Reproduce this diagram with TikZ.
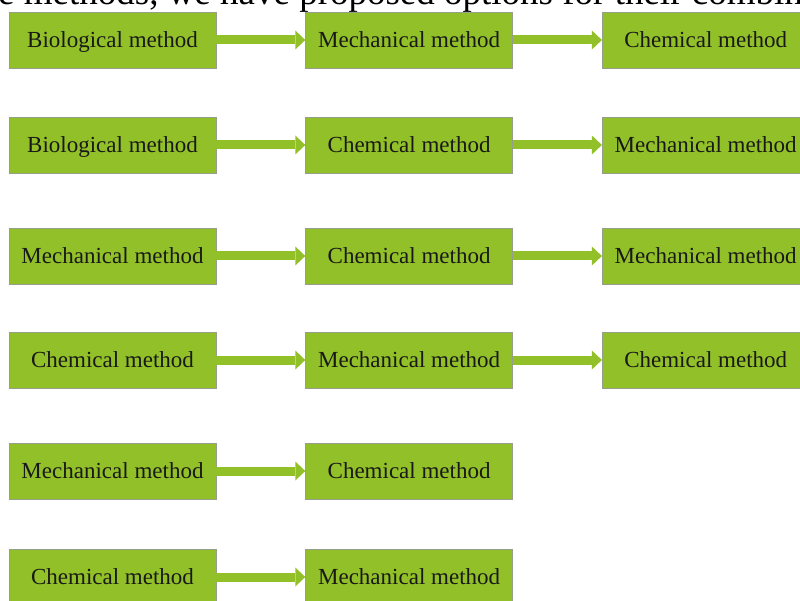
\documentclass[tikz,border=0pt]{standalone}
\usepackage{fontspec}
\setmainfont{Liberation Serif}
\usepackage{tikz}
\usetikzlibrary{positioning}
\usetikzlibrary{arrows.meta}
\definecolor{boxgreen}{RGB}{146,192,40}
\definecolor{boxedge}{RGB}{150,158,140}
\tikzset{method/.style={rectangle,fill=boxgreen,draw=boxedge,line width=0.6pt,minimum width=207pt,minimum height=56pt,inner sep=0pt,text depth=0pt,font=\fontsize{23}{26}\selectfont,text=black!90}}
\tikzset{link/.style={draw=boxgreen,line width=9pt,-{Triangle[length=10pt,width=19pt,line width=0pt]}}}

\begin{document}
\begin{tikzpicture}[x=1pt,y=1pt,node distance=89pt]
\useasboundingbox (0,0) rectangle (800,-601);
\clip (0,0) rectangle (800,-601);
% cut-off line of the text above
\node[anchor=base west,inner sep=0pt,font=\fontsize{37}{40}\selectfont] (cap) at (-2,-5) {e methods, we have proposed options for their combin};

% row 1
\node[method] (bioA) at (112.5,-40) {Biological method};
\node[method, right=of bioA] (mechA) {Mechanical method};
\node[method, right=of mechA] (chemA) {Chemical method};
 \draw[link] (bioA) -- (mechA);
 \draw[link] (mechA) -- (chemA);

% row 2
\node[method] (bioB) at (112.5,-145) {Biological method};
\node[method, right=of bioB] (chemB) {Chemical method};
\node[method, right=of chemB] (mechB) {Mechanical method};
 \draw[link] (bioB) -- (chemB);
 \draw[link] (chemB) -- (mechB);

% row 3
\node[method] (mechC) at (112.5,-256) {Mechanical method};
\node[method, right=of mechC] (chemC) {Chemical method};
\node[method, right=of chemC] (mechCC) {Mechanical method};
 \draw[link] (mechC) -- (chemC);
 \draw[link] (chemC) -- (mechCC);

% row 4
\node[method] (chemD) at (112.5,-360) {Chemical method};
\node[method, right=of chemD] (mechD) {Mechanical method};
\node[method, right=of mechD] (chemDD) {Chemical method};
 \draw[link] (chemD) -- (mechD);
 \draw[link] (mechD) -- (chemDD);

% row 5
\node[method] (mechE) at (112.5,-471) {Mechanical method};
\node[method, right=of mechE] (chemE) {Chemical method};
 \draw[link] (mechE) -- (chemE);

% row 6
\node[method] (chemF) at (112.5,-577) {Chemical method};
\node[method, right=of chemF] (mechF) {Mechanical method};
 \draw[link] (chemF) -- (mechF);

\end{tikzpicture}
\end{document}
